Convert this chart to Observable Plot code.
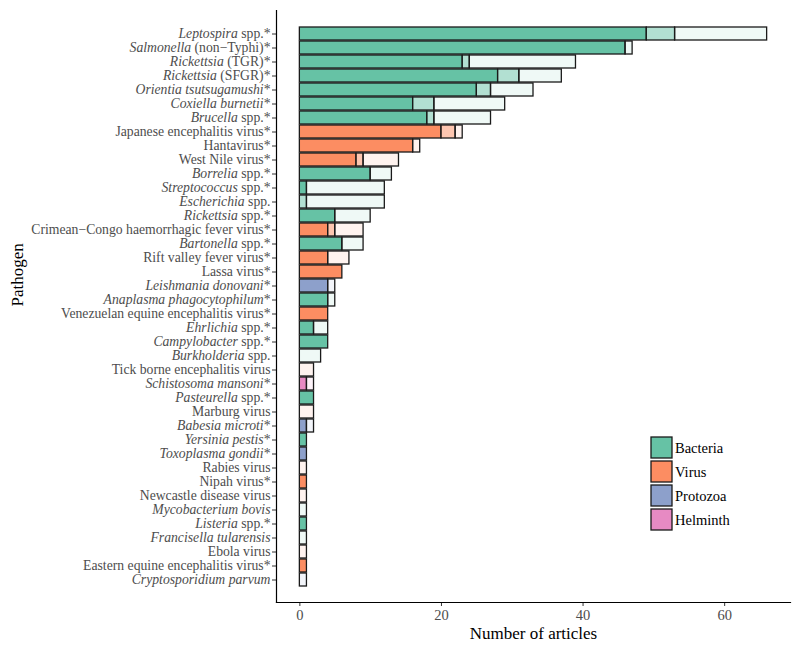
<!DOCTYPE html>
<html><head><meta charset="utf-8">
<script src="https://cdn.jsdelivr.net/npm/d3@7"></script>
<script src="https://cdn.jsdelivr.net/npm/@observablehq/plot@0.6"></script>
<style>
body{margin:0;background:#fff;}
#chart svg{display:block;}
g[aria-label="x-axis tick label"], g[aria-label="y-axis tick label"]{fill:#4d4d4d;}
</style>
</head><body><div id="chart"></div>
<script>
// Labels: text between underscores is italic
const pathogens = [
  "_Leptospira_ spp.*", "_Salmonella_ (non−Typhi)*", "_Rickettsia_ (TGR)*", "_Rickettsia_ (SFGR)*",
  "_Orientia tsutsugamushi_*", "_Coxiella burnetii_*", "_Brucella_ spp.*", "Japanese encephalitis virus*",
  "Hantavirus*", "West Nile virus*", "_Borrelia_ spp.*", "_Streptococcus_ spp.*", "_Escherichia_ spp.",
  "_Rickettsia_ spp.*", "Crimean−Congo haemorrhagic fever virus*", "_Bartonella_ spp.*",
  "Rift valley fever virus*", "Lassa virus*", "_Leishmania donovani_*", "_Anaplasma phagocytophilum_*",
  "Venezuelan equine encephalitis virus*", "_Ehrlichia_ spp.*", "_Campylobacter_ spp.*",
  "_Burkholderia_ spp.", "Tick borne encephalitis virus", "_Schistosoma mansoni_*", "_Pasteurella_ spp.*",
  "Marburg virus", "_Babesia microti_*", "_Yersinia pestis_*", "_Toxoplasma gondii_*", "Rabies virus",
  "Nipah virus*", "Newcastle disease virus", "_Mycobacterium bovis_", "_Listeria_ spp.*",
  "_Francisella tularensis_", "Ebola virus", "Eastern equine encephalitis virus*", "_Cryptosporidium parvum_"
];
const types = [
  "Bacteria","Bacteria","Bacteria","Bacteria","Bacteria","Bacteria","Bacteria","Virus",
  "Virus","Virus","Bacteria","Bacteria","Bacteria","Bacteria","Virus","Bacteria",
  "Virus","Virus","Protozoa","Bacteria","Virus","Bacteria","Bacteria","Bacteria",
  "Virus","Helminth","Bacteria","Virus","Protozoa","Bacteria","Protozoa","Virus",
  "Virus","Virus","Bacteria","Bacteria","Bacteria","Virus","Virus","Protozoa"
];
// three stacked segments per pathogen (full, medium, light shade)
const segFull = [49,46,23,28,25,16,18,20,16,8,10,1,0,5,4,6,4,6,4,4,4,2,4,0,0,1,2,0,1,1,1,0,1,0,0,1,0,0,1,0];
const segMid  = [4,0,1,3,2,3,1,2,0,1,0,0,1,0,1,0,0,0,0,0,0,0,0,0,0,0,0,0,0,0,0,0,0,0,0,0,0,0,0,0];
const segLight= [13,1,15,6,6,10,8,1,1,5,3,11,11,5,4,3,3,0,1,1,0,2,0,3,2,1,0,2,1,0,0,1,0,1,1,0,1,1,0,1];
const typeNames = ["Bacteria","Virus","Protozoa","Helminth"];
const xTicks = [0,20,40,60];

const style = {
  colors: ["#66c2a5","#fc8d62","#8da0cb","#e78ac3"],
  shade: [1, 0.5, 0.1],
  font: "'Liberation Serif', 'Times New Roman', serif"
};

const plain = pathogens.map(p => p.replace(/_/g, ""));
const segs = [segFull, segMid, segLight];
const rows = [];
plain.forEach((p, i) => {
  segs.forEach((s, t) => {
    if (s[i] > 0) rows.push({pathogen: p, type: types[i], tier: t, value: s[i]});
  });
});

const chart = Plot.plot({
  width: 800, height: 647,
  marginLeft: 276, marginRight: 10, marginTop: 10, marginBottom: 45,
  style: {fontFamily: style.font, fontSize: "14px", background: "#fff"},
  x: {domain: [-3.3, 69.3], axis: null},
  y: {domain: plain, paddingInner: 0.1, paddingOuter: 0.15, axis: null},
  color: {domain: typeNames, range: style.colors},
  marks: [
    Plot.barX(rows, Plot.stackX({
      x: "value", y: "pathogen", fill: "type",
      fillOpacity: d => style.shade[d.tier],
      stroke: "#1a1a1a", strokeWidth: 1.3
    })),
    Plot.axisX({ticks: xTicks, tickSize: 4, tickPadding: 3, fontSize: 14.5, label: null, stroke: "#333"}),
    Plot.axisY({tickSize: 4, tickPadding: 2, fontSize: 13.7, label: null, stroke: "#333"}),
    Plot.frame({anchor: "left", stroke: "#000", strokeWidth: 1.2}),
    Plot.frame({anchor: "bottom", stroke: "#000", strokeWidth: 1.2}),
    Plot.text(["Number of articles"], {frameAnchor: "bottom", dy: 31, fontSize: 17, fill: "#000", lineAnchor: "middle"}),
    Plot.text(["Pathogen"], {frameAnchor: "left", dx: -259, rotate: -90, fontSize: 17, fill: "#000", lineAnchor: "middle"})
  ]
});
document.getElementById("chart").appendChild(chart);

// italic portions of tick labels
const markup = new Map(pathogens.map(p => [p.replace(/_/g, ""), p]));
d3.select(chart).selectAll('g[aria-label="y-axis tick label"] text').each(function() {
  const t = d3.select(this);
  const m = markup.get(t.text());
  if (!m) return;
  t.text(null);
  m.split("_").forEach((part, k) => {
    if (part) t.append("tspan").attr("font-style", k % 2 ? "italic" : "normal").text(part);
  });
});

// legend
const color = chart.scale("color");
const lg = d3.select(chart).append("g").attr("aria-label", "legend")
  .attr("text-anchor", "start").attr("font-family", style.font);
typeNames.forEach((n, i) => {
  lg.append("rect").attr("x", 651).attr("y", 437 + i * 24).attr("width", 21).attr("height", 21)
    .attr("fill", color.apply(n)).attr("stroke", "#1a1a1a").attr("stroke-width", 1.3);
  lg.append("text").attr("x", 675).attr("y", 437 + i * 24 + 10.5).attr("dy", "0.35em")
    .attr("font-size", 14.5).attr("fill", "#000").text(n);
});
</script>
</body></html>
